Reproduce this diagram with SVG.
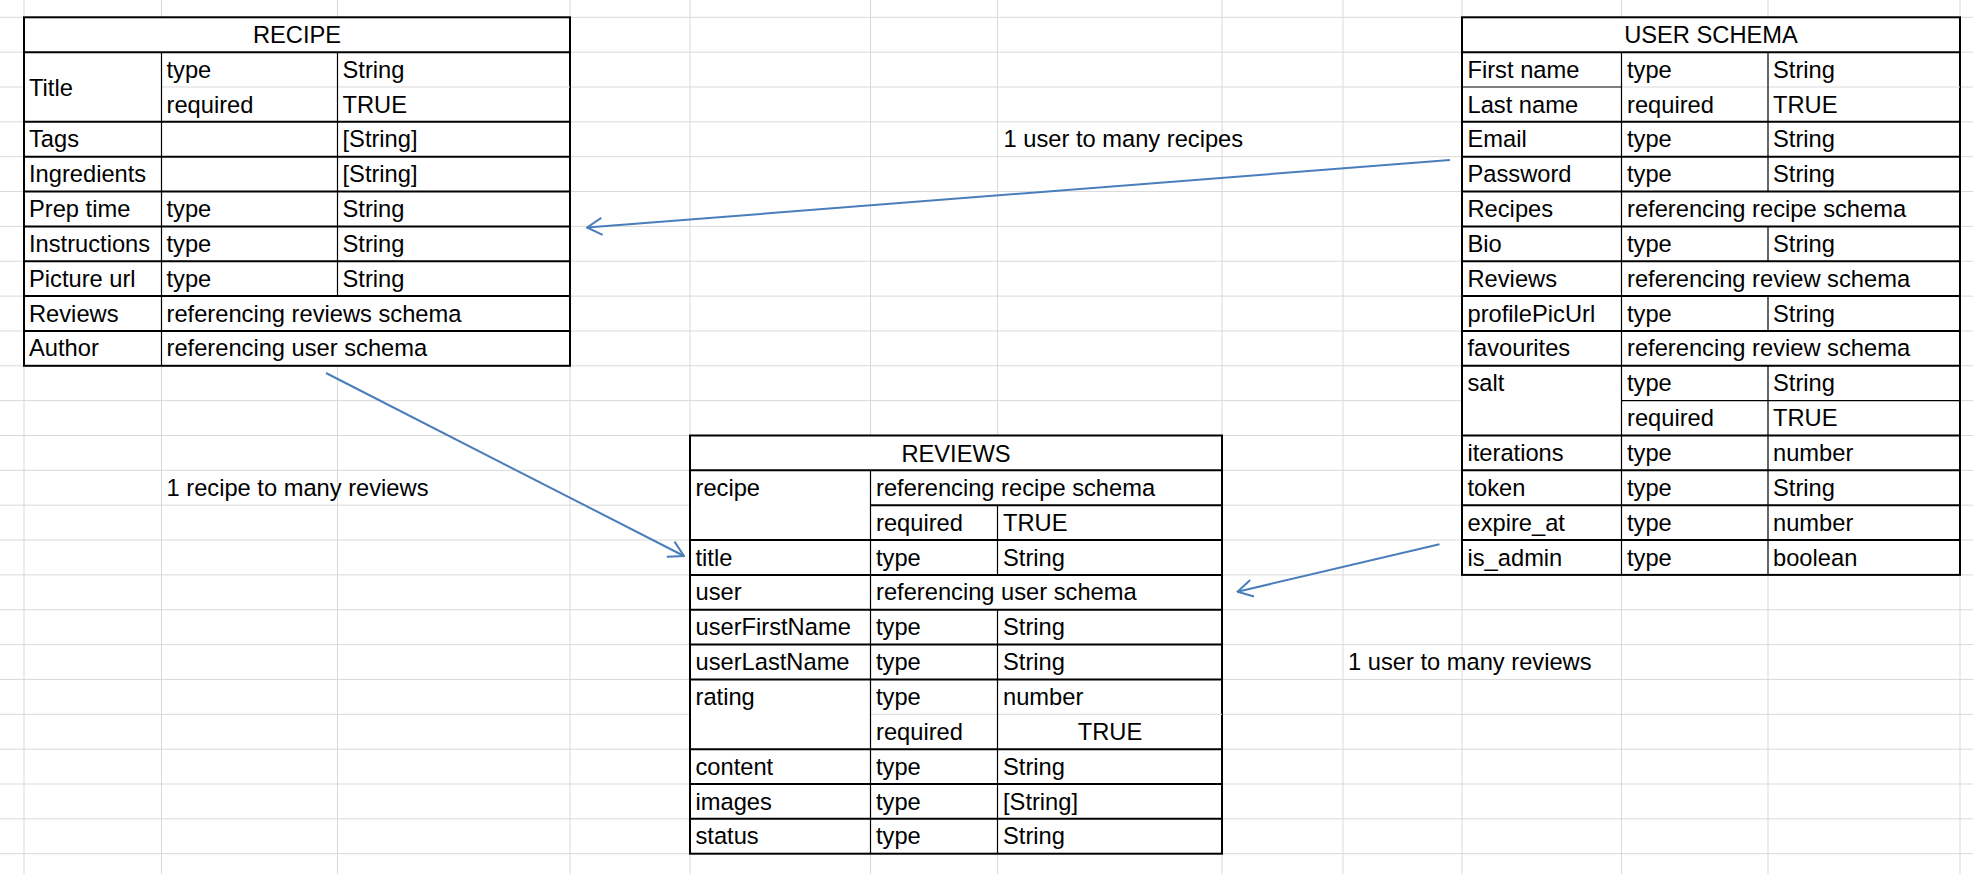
<svg xmlns="http://www.w3.org/2000/svg" width="1973" height="874" viewBox="0 0 1973 874">
<style>
.bg{fill:#ffffff}
.g{stroke:#d9d9d9;stroke-width:1;fill:none}
.tb{fill:#ffffff;stroke:#000;stroke-width:2}
.hk{stroke:#000;stroke-width:2;fill:none}
.tn{stroke:#000;stroke-width:1.2;fill:none}
.gi{stroke:#d9d9d9;stroke-width:1;fill:none}
text{font-family:"Liberation Sans",Arial,sans-serif;font-size:23.7px;fill:#000}
.c{text-anchor:middle}
.cn{stroke:#4a7ebb;stroke-width:2;fill:none}
</style>
<defs>
<marker id="arr" markerUnits="userSpaceOnUse" markerWidth="18" markerHeight="20" viewBox="0 0 18 20" refX="17" refY="10" orient="auto">
<path d="M2 1.5 L17 10 L2 18.5" fill="none" stroke="#4a7ebb" stroke-width="2"/>
</marker>
</defs>
<rect class="bg" x="0" y="0" width="1973" height="874"/>
<g id="grid">
<path class="g" d="M24 0V874M161.5 0V874M337.5 0V874M570 0V874M690 0V874M870.5 0V874M997.5 0V874M1222 0V874M1343 0V874M1462 0V874M1621.5 0V874M1768 0V874M1960 0V874"/>
<path class="g" d="M0 17.3H1973M0 52.15H1973M0 87H1973M0 121.85H1973M0 156.7H1973M0 191.55H1973M0 226.4H1973M0 261.25H1973M0 296.1H1973M0 330.95H1973M0 365.8H1973M0 400.65H1973M0 435.5H1973M0 470.35H1973M0 505.2H1973M0 540.05H1973M0 574.9H1973M0 609.75H1973M0 644.6H1973M0 679.45H1973M0 714.3H1973M0 749.15H1973M0 784H1973M0 818.85H1973M0 853.7H1973"/>
</g>
<g id="recipe">
<rect class="tb" x="24" y="17.3" width="546" height="348.5"/>
<path class="gi" d="M161.5 87H570"/>
<path class="hk" d="M24 52.15H570M24 121.85H570M24 156.7H570M24 191.55H570M24 226.4H570M24 261.25H570M24 296.1H570M24 330.95H570"/>
<path class="tn" d="M161.5 52.15V365.8M337.5 52.15V296.1"/>
<text class="c" x="297" y="43">RECIPE</text>
<text x="29" y="95.5">Title</text>
<text x="166.5" y="77.5">type</text>
<text x="342.5" y="77.5">String</text>
<text x="166.5" y="112.5">required</text>
<text x="342.5" y="112.5">TRUE</text>
<text x="29" y="147.4">Tags</text>
<text x="342.5" y="147.4">[String]</text>
<text x="29" y="182.2">Ingredients</text>
<text x="342.5" y="182.2">[String]</text>
<text x="29" y="217">Prep time</text>
<text x="166.5" y="217">type</text>
<text x="342.5" y="217">String</text>
<text x="29" y="251.9">Instructions</text>
<text x="166.5" y="251.9">type</text>
<text x="342.5" y="251.9">String</text>
<text x="29" y="286.7">Picture url</text>
<text x="166.5" y="286.7">type</text>
<text x="342.5" y="286.7">String</text>
<text x="29" y="321.6">Reviews</text>
<text x="166.5" y="321.6">referencing reviews schema</text>
<text x="29" y="356.4">Author</text>
<text x="166.5" y="356.4">referencing user schema</text>
</g>
<g id="user-schema">
<rect class="tb" x="1462" y="17.3" width="498" height="557.6"/>
<path class="gi" d="M1621.5 87H1960"/>
<path class="hk" d="M1462 52.15H1960M1462 121.85H1960M1462 156.7H1960M1462 191.55H1960M1462 226.4H1960M1462 261.25H1960M1462 296.1H1960M1462 330.95H1960M1462 365.8H1960M1462 435.5H1960M1462 470.35H1960M1462 505.2H1960M1462 540.05H1960"/>
<path class="tn" d="M1462 87H1621.5M1621.5 400.65H1960M1621.5 52.15V574.9M1768 52.15V191.55M1768 226.4V261.25M1768 296.1V330.95M1768 365.8V574.9"/>
<text class="c" x="1711" y="43">USER SCHEMA</text>
<text x="1467.5" y="77.5">First name</text>
<text x="1627" y="77.5">type</text>
<text x="1773" y="77.5">String</text>
<text x="1467.5" y="112.5">Last name</text>
<text x="1627" y="112.5">required</text>
<text x="1773" y="112.5">TRUE</text>
<text x="1467.5" y="147.4">Email</text>
<text x="1627" y="147.4">type</text>
<text x="1773" y="147.4">String</text>
<text x="1467.5" y="182.2">Password</text>
<text x="1627" y="182.2">type</text>
<text x="1773" y="182.2">String</text>
<text x="1467.5" y="217">Recipes</text>
<text x="1627" y="217">referencing recipe schema</text>
<text x="1467.5" y="251.9">Bio</text>
<text x="1627" y="251.9">type</text>
<text x="1773" y="251.9">String</text>
<text x="1467.5" y="286.7">Reviews</text>
<text x="1627" y="286.7">referencing review schema</text>
<text x="1467.5" y="321.6">profilePicUrl</text>
<text x="1627" y="321.6">type</text>
<text x="1773" y="321.6">String</text>
<text x="1467.5" y="356.4">favourites</text>
<text x="1627" y="356.4">referencing review schema</text>
<text x="1467.5" y="391.3">salt</text>
<text x="1627" y="391.3">type</text>
<text x="1773" y="391.3">String</text>
<text x="1627" y="426.2">required</text>
<text x="1773" y="426.2">TRUE</text>
<text x="1467.5" y="461">iterations</text>
<text x="1627" y="461">type</text>
<text x="1773" y="461">number</text>
<text x="1467.5" y="495.9">token</text>
<text x="1627" y="495.9">type</text>
<text x="1773" y="495.9">String</text>
<text x="1467.5" y="530.7">expire_at</text>
<text x="1627" y="530.7">type</text>
<text x="1773" y="530.7">number</text>
<text x="1467.5" y="565.6">is_admin</text>
<text x="1627" y="565.6">type</text>
<text x="1773" y="565.6">boolean</text>
</g>
<g id="reviews">
<rect class="tb" x="690" y="435.5" width="532" height="418.2"/>
<path class="gi" d="M870.5 714.3H1222"/>
<path class="hk" d="M690 470.35H1222M870.5 505.2H1222M690 540.05H1222M690 574.9H1222M690 609.75H1222M690 644.6H1222M690 679.45H1222M690 749.15H1222M690 784H1222M690 818.85H1222"/>
<path class="tn" d="M870.5 470.35V853.7M997.5 505.2V574.9M997.5 609.75V853.7"/>
<text class="c" x="956" y="461.5">REVIEWS</text>
<text x="695.5" y="495.9">recipe</text>
<text x="876" y="495.9">referencing recipe schema</text>
<text x="876" y="530.7">required</text>
<text x="1003" y="530.7">TRUE</text>
<text x="695.5" y="565.6">title</text>
<text x="876" y="565.6">type</text>
<text x="1003" y="565.6">String</text>
<text x="695.5" y="600.4">user</text>
<text x="876" y="600.4">referencing user schema</text>
<text x="695.5" y="635.3">userFirstName</text>
<text x="876" y="635.3">type</text>
<text x="1003" y="635.3">String</text>
<text x="695.5" y="670.1">userLastName</text>
<text x="876" y="670.1">type</text>
<text x="1003" y="670.1">String</text>
<text x="695.5" y="705">rating</text>
<text x="876" y="705">type</text>
<text x="1003" y="705">number</text>
<text x="876" y="739.8">required</text>
<text class="c" x="1110" y="739.8">TRUE</text>
<text x="695.5" y="774.7">content</text>
<text x="876" y="774.7">type</text>
<text x="1003" y="774.7">String</text>
<text x="695.5" y="809.5">images</text>
<text x="876" y="809.5">type</text>
<text x="1003" y="809.5">[String]</text>
<text x="695.5" y="844.4">status</text>
<text x="876" y="844.4">type</text>
<text x="1003" y="844.4">String</text>
</g>
<g id="connectors">
<path class="cn" d="M1450 160L587 227.5" marker-end="url(#arr)"/>
<path class="cn" d="M326 373L684 556" marker-end="url(#arr)"/>
<path class="cn" d="M1439.5 544.3L1237.5 591.7" marker-end="url(#arr)"/>
<text x="1003.5" y="147.4">1 user to many recipes</text>
<text x="166.5" y="495.9">1 recipe to many reviews</text>
<text x="1348" y="670.1">1 user to many reviews</text>
</g>
</svg>
